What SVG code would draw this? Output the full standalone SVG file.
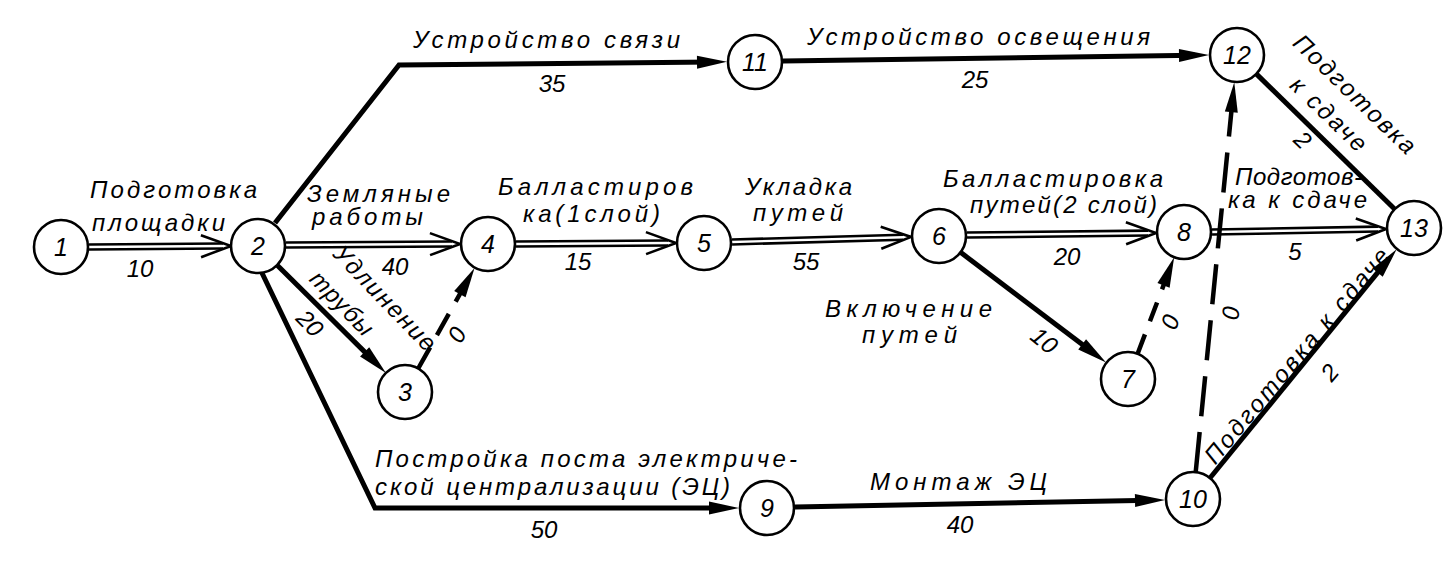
<svg xmlns="http://www.w3.org/2000/svg" width="1451" height="563" viewBox="0 0 1451 563">
<style>
.node circle{fill:#fff;stroke:#000;stroke-width:2.6}
.node text{font-family:"Liberation Sans",Arial,sans-serif;font-style:italic;font-size:25px;text-anchor:middle;fill:#000}
.thick{fill:none;stroke:#000;stroke-width:5;stroke-linejoin:miter}
.dash{fill:none;stroke:#000;stroke-width:4.5}
.dblo{fill:none;stroke:#000;stroke-width:7.5}
.dbli{fill:none;stroke:#fff;stroke-width:2.4}
.lbl{font-family:"Liberation Sans",Arial,sans-serif;font-style:italic;font-size:24px;fill:#000}
.num{font-family:"Liberation Sans",Arial,sans-serif;font-style:italic;font-size:24px;fill:#000;text-anchor:middle}
.mid{text-anchor:middle}
</style>
<defs>
<marker id="solid" markerUnits="userSpaceOnUse" viewBox="-20 -8 36 16" markerWidth="36" markerHeight="16" refX="0" refY="0" orient="auto" overflow="visible">
<path d="M14,0 L-16,-6.5 L-16,6.5 Z" fill="#000"/>
</marker>
<marker id="open" markerUnits="userSpaceOnUse" viewBox="-26 -13 36 26" markerWidth="36" markerHeight="26" refX="0" refY="0" orient="auto" overflow="visible">
<path d="M-22,-11 L8,0 L-22,11" fill="none" stroke="#000" stroke-width="2.6" stroke-linejoin="miter"/>
</marker>
</defs>
<rect width="1451" height="563" fill="#fff"/>
<g id="connectors">
<path class="dblo" d="M89,247 L223,246"/><path class="dbli" d="M89,247 L223,246" marker-end="url(#open)"/>
<path class="dblo" d="M286,245 L452,244"/><path class="dbli" d="M286,245 L452,244" marker-end="url(#open)"/>
<path class="dblo" d="M516,244 L668,243"/><path class="dbli" d="M516,244 L668,243" marker-end="url(#open)"/>
<path class="dblo" d="M732,242 L903,237.2"/><path class="dbli" d="M732,242 L903,237.2" marker-end="url(#open)"/>
<path class="dblo" d="M967,235 L1148,233.1"/><path class="dbli" d="M967,235 L1148,233.1" marker-end="url(#open)"/>
<path class="dblo" d="M1212,232 L1378,229.1"/><path class="dbli" d="M1212,232 L1378,229.1" marker-end="url(#open)"/>
<path class="thick" d="M275,223 L399,65 L713,62" marker-end="url(#solid)"/>
<path class="thick" d="M783,61 L1195,55.2" marker-end="url(#solid)"/>
<path class="thick" d="M277,265 L376,363.1" marker-end="url(#solid)"/>
<path class="thick" d="M262,273 L375,508 L725,508" marker-end="url(#solid)"/>
<path class="thick" d="M795,507 L1151,500.3" marker-end="url(#solid)"/>
<path class="thick" d="M960.5,252.3 L1094.9,354" marker-end="url(#solid)"/>
<path class="thick" d="M1210,478 L1387.8,260.2" marker-end="url(#solid)"/>
<path class="thick" d="M1256.3,73.9 L1394.3,208.8"/>
<path class="dash" d="M418.2,368.5 L467.7,280.2" stroke-dasharray="24.3 14" marker-end="url(#solid)"/>
<path class="dash" d="M1137.8,353.3 L1169.2,270.4" stroke-dasharray="20.2 14" marker-end="url(#solid)"/>
<path class="dash" d="M1195.7,472.1 L1232.9,96.3" stroke-dasharray="40.2 16" marker-end="url(#solid)"/>
</g>
<g id="labels">
<text class="lbl" x="90" y="198" textLength="167" lengthAdjust="spacing">Подготовка</text>
<text class="lbl" x="92" y="231" textLength="133" lengthAdjust="spacing">площадки</text>
<text class="num" x="140" y="277">10</text>
<text class="lbl" x="413" y="48" textLength="267" lengthAdjust="spacing">Устройство связи</text>
<text class="num" x="552" y="92">35</text>
<text class="lbl" x="807" y="45" textLength="343" lengthAdjust="spacing">Устройство освещения</text>
<text class="num" x="975" y="88">25</text>
<text class="lbl" x="307" y="202" textLength="143" lengthAdjust="spacing">Земляные</text>
<text class="lbl" x="312" y="225" textLength="111" lengthAdjust="spacing">работы</text>
<text class="num" x="395" y="275">40</text>
<text class="lbl" x="498" y="195" textLength="195" lengthAdjust="spacing">Балластиров</text>
<text class="lbl" x="523" y="222" textLength="137" lengthAdjust="spacing">ка(1слой)</text>
<text class="num" x="578" y="270">15</text>
<text class="lbl" x="745" y="195" textLength="107" lengthAdjust="spacing">Укладка</text>
<text class="lbl" x="753" y="221" textLength="90" lengthAdjust="spacing">путей</text>
<text class="num" x="806" y="270">55</text>
<text class="lbl" x="943" y="187" textLength="220" lengthAdjust="spacing">Балластировка</text>
<text class="lbl" x="970" y="213" textLength="187" lengthAdjust="spacing">путей(2 слой)</text>
<text class="num" x="1067" y="265">20</text>
<text class="lbl" x="825" y="317" textLength="167" lengthAdjust="spacing">Включение</text>
<text class="lbl" x="862" y="343" textLength="95" lengthAdjust="spacing">путей</text>
<text class="num" transform="translate(1039,347) rotate(39)">10</text>
<text class="num" transform="translate(1178,325) rotate(-69)">0</text>
<text class="num" transform="translate(464,339) rotate(-60)">0</text>
<text class="num" transform="translate(1239,314) rotate(-84)">0</text>
<text class="lbl" x="1235" y="185" textLength="127" lengthAdjust="spacing">Подготов-</text>
<text class="lbl" x="1228" y="208" textLength="139" lengthAdjust="spacing">ка к сдаче</text>
<text class="num" x="1295" y="260">5</text>
<text class="lbl mid" transform="translate(1349,100) rotate(44)" textLength="160" lengthAdjust="spacing">Подготовка</text>
<text class="lbl mid" transform="translate(1323,120) rotate(44)" textLength="96" lengthAdjust="spacing">к сдаче</text>
<text class="num" transform="translate(1297,146) rotate(44)">2</text>
<text class="lbl mid" transform="translate(1303,361) rotate(-50)" textLength="273" lengthAdjust="spacing">Подготовка к сдаче</text>
<text class="num" transform="translate(1336,378) rotate(-50)">2</text>
<text class="lbl mid" transform="translate(379,304) rotate(46)" textLength="136" lengthAdjust="spacing">Удлинение</text>
<text class="lbl mid" transform="translate(336,309) rotate(46)" textLength="80" lengthAdjust="spacing">трубы</text>
<text class="num" transform="translate(304,329) rotate(46)">20</text>
<text class="lbl" x="375" y="467" textLength="422" lengthAdjust="spacing">Постройка поста электриче-</text>
<text class="lbl" x="375" y="495" textLength="355" lengthAdjust="spacing">ской централизации (ЭЦ)</text>
<text class="num" x="544" y="538">50</text>
<text class="lbl" x="870" y="490" textLength="177" lengthAdjust="spacing">Монтаж ЭЦ</text>
<text class="num" x="960" y="533">40</text>
</g>
<g id="n1" class="node"><circle cx="61" cy="247" r="27"/><text x="61" y="256">1</text></g>
<g id="n2" class="node"><circle cx="258" cy="246" r="27"/><text x="258" y="255">2</text></g>
<g id="n3" class="node"><circle cx="405" cy="392" r="27"/><text x="405" y="401">3</text></g>
<g id="n4" class="node"><circle cx="488" cy="244" r="27"/><text x="488" y="253">4</text></g>
<g id="n5" class="node"><circle cx="704" cy="243" r="27"/><text x="704" y="252">5</text></g>
<g id="n6" class="node"><circle cx="939" cy="236" r="27"/><text x="939" y="245">6</text></g>
<g id="n7" class="node"><circle cx="1128" cy="379" r="27"/><text x="1128" y="388">7</text></g>
<g id="n8" class="node"><circle cx="1184" cy="232" r="27"/><text x="1184" y="241">8</text></g>
<g id="n9" class="node"><circle cx="767" cy="508" r="27"/><text x="767" y="517">9</text></g>
<g id="n10" class="node"><circle cx="1193" cy="499" r="27"/><text x="1193" y="508">10</text></g>
<g id="n11" class="node"><circle cx="755" cy="62" r="27"/><text x="755" y="71">11</text></g>
<g id="n12" class="node"><circle cx="1237" cy="55" r="27"/><text x="1237" y="64">12</text></g>
<g id="n13" class="node"><circle cx="1414" cy="228" r="27"/><text x="1414" y="237">13</text></g>
</svg>
